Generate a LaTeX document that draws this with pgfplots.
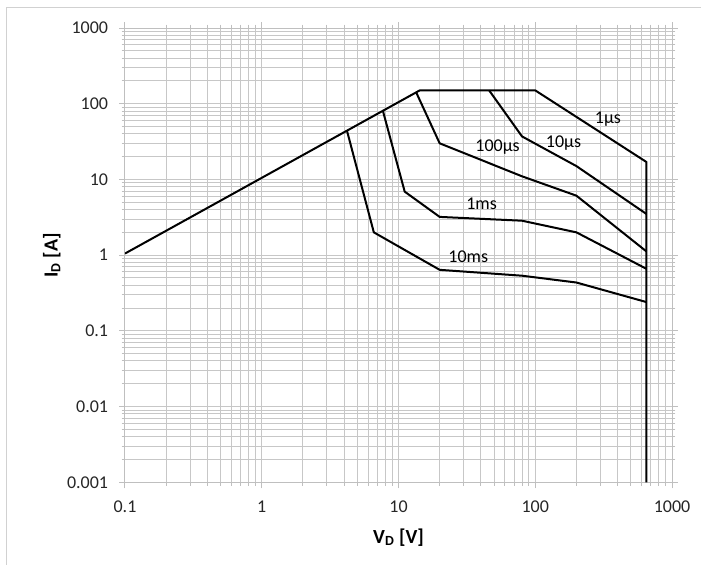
\documentclass[border=0pt]{standalone}
\usepackage{fontspec}
\setmainfont{Carlito}
\usepackage{pgfplots}
\pgfplotsset{compat=1.18}

\begin{document}
\begin{tikzpicture}
\begin{axis}[
  xmode=log, ymode=log,
  scale only axis,
  width=410.25pt, height=340.7pt,
  xmin=0.1, xmax=1000, ymin=0.001, ymax=1000,
  xtick={0.1,1,10,100,1000},
  xticklabels={0.1,1,10,100,1000},
  ytick={0.001,0.01,0.1,1,10,100,1000},
  yticklabels={0.001,0.01,0.1,1,10,100,1000},
  grid=both,
  major grid style={draw=black!22, line width=0.75pt},
  minor grid style={draw=black!22, line width=0.75pt},
  axis line style={draw=black!25, line width=0.75pt},
  tick align=outside,
  major tick length=4.5pt,
  minor tick length=2.5pt,
  tick style={draw=black!25, line width=0.75pt},
  /pgf/number format/assume math mode=true,
  tick label style={font=\fontsize{13.5}{16}\selectfont, text=black!85, inner sep=0pt},
  yticklabel style={xshift=-8pt},
  xticklabel style={yshift=-9pt},
  xlabel={\textbf{V\textsubscript{D} [V]}},
  ylabel={\textbf{I\textsubscript{D} [A]}},
  label style={font=\fontsize{15}{18}\selectfont},
  xlabel style={at={(axis description cs:0.5,-0.121)}, anchor=center},
  ylabel style={at={(axis description cs:-0.134,0.5)}, anchor=center, rotate=0},
  soa/.style={black, no markers, line width=1.5pt, line join=round},
]
% outer limit: Rds(on) line, current limit, 1 us, breakdown
\addplot[soa] coordinates {
  (0.1,1.05)(14.3,150)(100,150)(200,67)(650,17)(650,0.001)
};
% 10 us
\addplot[soa] coordinates {
  (46,150)(80,37)(200,15)(650,3.5)
};
% 100 us
\addplot[soa] coordinates {
  (13.5,140)(20,30)(80,11)(200,6.1)(650,1.12)
};
% 1 ms
\addplot[soa] coordinates {
  (7.7,80)(11.1,6.9)(20,3.2)(80,2.85)(200,2.0)(650,0.66)
};
% 10 ms
\addplot[soa] coordinates {
  (4.2,44)(6.6,2.0)(20,0.64)(80,0.535)(200,0.435)(650,0.24)
};

\node[font=\fontsize{13.5}{16}\selectfont] at (axis cs:340,62.5) {1µs};
\node[font=\fontsize{13.5}{16}\selectfont] at (axis cs:161,30) {10µs};
\node[font=\fontsize{13.5}{16}\selectfont] at (axis cs:53,26.4) {100µs};
\node[font=\fontsize{13.5}{16}\selectfont] at (axis cs:40.5,4.7) {1ms};
\node[font=\fontsize{13.5}{16}\selectfont] at (axis cs:32.4,0.94) {10ms};
\end{axis}

% chart area frame
\draw[black!18, line width=0.9pt]
  ([xshift=-88.7pt,yshift=-120pt]current axis.south west)
  -- ([xshift=-88.7pt,yshift=15.2pt]current axis.north west)
  -- ([xshift=120pt,yshift=15.2pt]current axis.north east);

\pgfresetboundingbox
\path[use as bounding box]
  ([xshift=-93.75pt,yshift=-62pt]current axis.south west)
  rectangle ([xshift=21.75pt,yshift=21pt]current axis.north east);
\end{tikzpicture}
\end{document}
